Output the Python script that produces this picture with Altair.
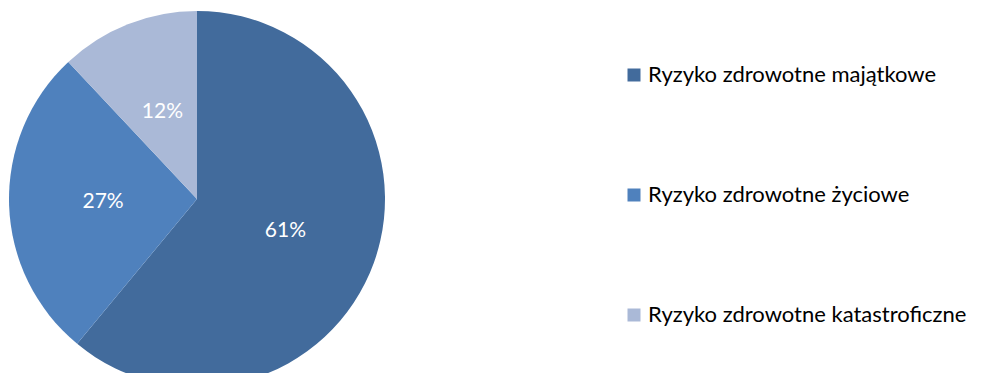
import altair as alt
import pandas as pd

categories = ["Ryzyko zdrowotne majątkowe", "Ryzyko zdrowotne życiowe", "Ryzyko zdrowotne katastroficzne"]
values = [61, 27, 12]
labels = ["61%", "27%", "12%"]
colors = ["#426B9C", "#4F81BD", "#AAB9D7"]

df = pd.DataFrame({"cat": categories, "value": values, "label": labels, "ord": list(range(len(categories)))})

FONT = "Lato"
cx, cy, R = 189, 191, 188

base = alt.Chart(df).encode(
    theta=alt.Theta("value:Q", stack=True),
    order=alt.Order("ord:Q"),
    x=alt.value(cx),
    y=alt.value(cy),
)

pie = base.mark_arc(radius=R, strokeWidth=0).encode(
    color=alt.Color(
        "cat:N",
        scale=alt.Scale(domain=categories, range=colors),
        sort=categories,
        legend=alt.Legend(
            title=None,
            orient="none",
            legendX=615,
            legendY=56,
            padding=0,
            symbolType="square",
            symbolSize=169,
            symbolStrokeWidth=0,
            symbolOpacity=1,
            labelFont=FONT,
            labelFontSize=22,
            labelColor="#000000",
            labelOffset=3,
            labelLimit=400,
            rowPadding=98,
        ),
    )
)

text = base.mark_text(radius=94, font=FONT, fontSize=21, color="#FFFFFF").encode(
    text="label:N"
)

chart = (pie + text).properties(
    width=970, height=365, autosize=alt.AutoSizeParams(type="none"), padding=0
).configure_view(stroke=None)

chart.save("out.html", embed_options={"renderer": "svg", "actions": False})
